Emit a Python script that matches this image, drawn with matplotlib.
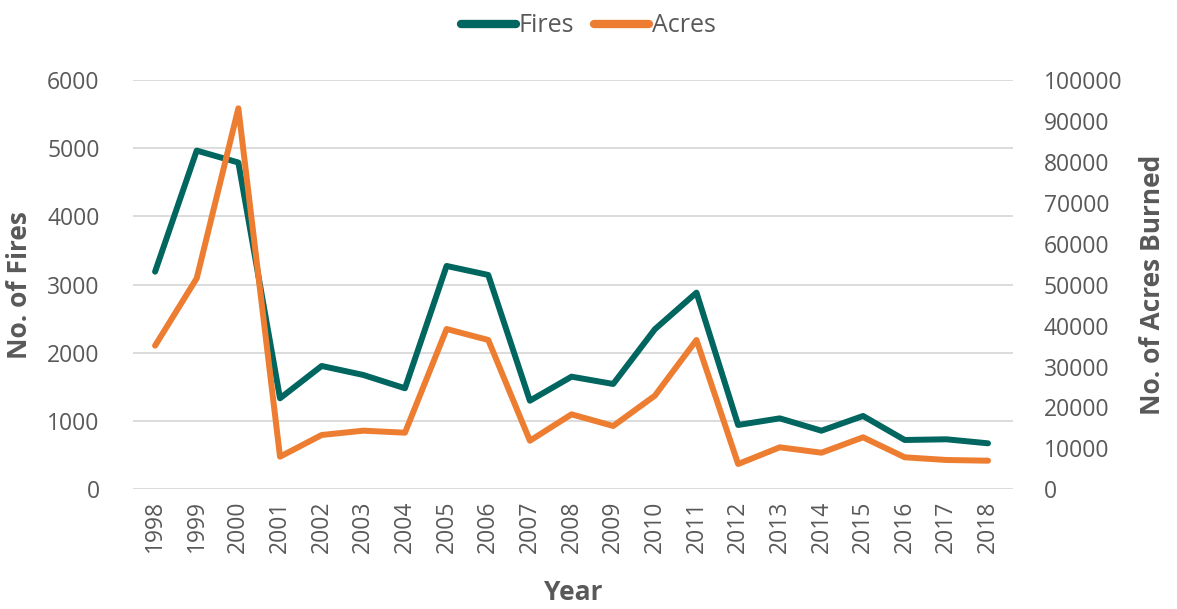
import matplotlib
matplotlib.use("Agg")
import matplotlib.pyplot as plt
from matplotlib.lines import Line2D

years = [str(y) for y in range(1998, 2019)]
fires = [3190, 4965, 4790, 1334, 1808, 1676, 1481, 3274, 3142, 1299, 1651,
         1544, 2346, 2883, 943, 1040, 859, 1075, 723, 733, 674]
acres = [35090, 51550, 93080, 7970, 13270, 14320, 13830, 39160, 36480, 11870,
         18320, 15470, 22870, 36480, 6180, 10260, 8940, 12700, 7820, 7160, 6990]

teal = "#00665F"
orange = "#ED7D31"
txt = "#595959"
plt.rcParams['font.family'] = ['Open Sans', 'DejaVu Sans']

fig = plt.figure(figsize=(11.77, 6.09), dpi=100)
W, H = 1177, 609
ax = fig.add_axes([133 / W, 1 - 489.3 / H, 880 / W, (489.3 - 80) / H])
ax2 = ax.twinx()

x = list(range(len(years)))
ax.plot(x, fires, color=teal, lw=4.3, solid_capstyle='round', solid_joinstyle='round', zorder=3)
ax2.plot(x, acres, color=orange, lw=4.3, solid_capstyle='round', solid_joinstyle='round', zorder=3)

ax.set_xlim(-0.53, 20.6)
ax.set_ylim(0, 6000)
ax2.set_ylim(0, 100000)
ax.set_yticks(range(0, 6001, 1000))
ax2.set_yticks(range(0, 100001, 10000))
ax.set_xticks(x)
ax.set_xticklabels(years, rotation=90)
ax.grid(axis='y', color='#D9D9D9', lw=1.3)
ax.set_axisbelow(True)
for a in (ax, ax2):
    for s in a.spines.values():
        s.set_visible(False)
    a.tick_params(length=0, colors=txt, labelsize=16.5)
ax.tick_params(axis='y', pad=24)
ax2.tick_params(axis='y', pad=22)
ax.tick_params(axis='x', pad=8)

ax.set_ylabel("No. of Fires", fontsize=19, fontweight='bold', color=txt, labelpad=10)
ax2.set_ylabel("No. of Acres Burned", fontsize=19, fontweight='bold', color=txt, labelpad=12)
ax.set_xlabel("Year", fontsize=19, fontweight='bold', color=txt, labelpad=19)

handles = [Line2D([], [], color=teal, lw=6, solid_capstyle='round'),
           Line2D([], [], color=orange, lw=6, solid_capstyle='round')]
fig.legend(handles, ["Fires", "Acres"], loc='upper center', bbox_to_anchor=(0.5, 1.015),
           ncol=2, frameon=False, fontsize=18, labelcolor=txt, handlelength=2.2,
           handletextpad=0.1, columnspacing=0.8)

fig.savefig("out.png", dpi=100)
